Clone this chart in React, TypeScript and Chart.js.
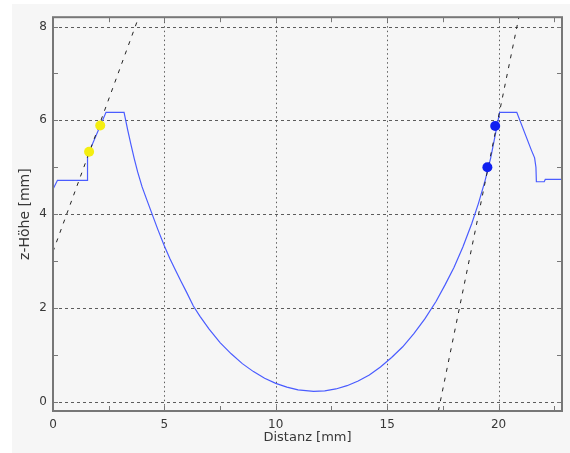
import React, { useEffect, useRef } from "react";
import { Chart, registerables } from "chart.js";

Chart.register(...registerables);

// Profile (blue line)
const profileX = [
  0, 0.2, 1.53, 1.55, 2.38, 3.19, 3.35, 3.5, 3.65, 3.8, 4.0, 4.2, 4.45, 4.7, 5.0, 5.25, 5.5, 5.75, 6.0, 6.3,
  6.6, 7.0, 7.5, 8.0, 8.5, 9.0, 9.5, 10.0, 10.5, 11.0, 11.7, 12.2, 12.7, 13.2, 13.7, 14.2, 14.7, 15.2,
  15.7, 16.2, 16.7, 17.2, 17.6, 18.0, 18.4, 18.8, 19.1, 19.4, 19.65, 19.85, 20.05, 20.82, 21.47,
  21.62, 21.68, 21.7, 22.05, 22.1, 22.85,
];
const profileY = [
  4.53, 4.72, 4.72, 5.25, 6.17, 6.17, 5.8, 5.48, 5.18, 4.9, 4.58, 4.32, 4.0, 3.68, 3.32, 3.05, 2.8, 2.56, 2.33, 2.04,
  1.82, 1.55, 1.26, 1.02, 0.81, 0.64, 0.5, 0.39, 0.31, 0.25, 0.22, 0.23, 0.27, 0.34, 0.44, 0.57, 0.74, 0.94,
  1.17, 1.45, 1.77, 2.14, 2.49, 2.86, 3.3, 3.8, 4.23, 4.72, 5.2, 5.68, 6.17, 6.17, 5.37,
  5.2, 5.0, 4.69, 4.69, 4.74, 4.74,
];

// Markers
const yellowX = [1.62, 2.12];
const yellowY = [5.33, 5.89];
const blueX = [19.5, 19.85];
const blueY = [5.0, 5.88];

// Tangent lines (black dashed)
const leftLineX = [0, 4.0];
const leftLineY = [3.2, 8.4];
const rightLineX = [17.3, 21.0];
const rightLineY = [-0.2, 8.4];

// Axes
const xMajorTicks = [0, 5, 10, 15, 20];
const xMinorTicks = [2.5, 7.5, 12.5, 17.5, 22.5];
const yMajorTicks = [0, 2, 4, 6, 8];
const yMinorTicks = [1, 3, 5, 7];
const xTitle = "Distanz [mm]";
const yTitle = "z-Höhe [mm]";

const BG = "#f6f6f6";
const GRID = "#5c5c5c";
const FRAME = "#777777";
const TEXT = "#383838";

const pts = (xs: number[], ys: number[]) => xs.map((x, i) => ({ x, y: ys[i] }));

const framePlugin = {
  id: "framePlugin",
  beforeDraw(chart: any) {
    const { ctx, width, height } = chart;
    ctx.save();
    ctx.fillStyle = BG;
    ctx.fillRect(0, 0, width, height);
    ctx.restore();
  },
  beforeDatasetsDraw(chart: any) {
    const { ctx, chartArea: a, scales } = chart;
    const x = scales.x;
    const y = scales.y;
    ctx.save();
    ctx.strokeStyle = GRID;
    ctx.lineWidth = 1;
    ctx.setLineDash([3, 3]);
    for (const v of yMajorTicks) {
      const py = Math.round(y.getPixelForValue(v)) + 0.5;
      ctx.beginPath();
      ctx.moveTo(a.left, py);
      ctx.lineTo(a.right, py);
      ctx.stroke();
    }
    ctx.setLineDash([1.5, 3]);
    for (const v of xMajorTicks) {
      const px = Math.round(x.getPixelForValue(v)) + 0.5;
      ctx.beginPath();
      ctx.moveTo(px, a.top);
      ctx.lineTo(px, a.bottom);
      ctx.stroke();
    }
    ctx.restore();
  },
  afterDatasetsDraw(chart: any) {
    const { ctx, chartArea: a, scales } = chart;
    const x = scales.x;
    const y = scales.y;
    ctx.save();
    ctx.strokeStyle = FRAME;
    ctx.setLineDash([]);
    ctx.lineWidth = 1;
    const tl = 5;
    for (const v of [...xMajorTicks, ...xMinorTicks]) {
      const px = Math.round(x.getPixelForValue(v)) + 0.5;
      ctx.beginPath();
      ctx.moveTo(px, a.bottom);
      ctx.lineTo(px, a.bottom - tl);
      ctx.moveTo(px, a.top);
      ctx.lineTo(px, a.top + tl);
      ctx.stroke();
    }
    for (const v of [...yMajorTicks, ...yMinorTicks]) {
      const py = Math.round(y.getPixelForValue(v)) + 0.5;
      ctx.beginPath();
      ctx.moveTo(a.left, py);
      ctx.lineTo(a.left + tl, py);
      ctx.moveTo(a.right, py);
      ctx.lineTo(a.right - tl, py);
      ctx.stroke();
    }
    ctx.lineWidth = 2;
    ctx.strokeRect(a.left, a.top, a.right - a.left, a.bottom - a.top);
    ctx.restore();
  },
};

export default function App() {
  const ref = useRef<HTMLCanvasElement | null>(null);

  useEffect(() => {
    if (!ref.current) return;
    const tickFont = { family: "DejaVu Sans", size: 12 };
    const xTitleFont = { family: "DejaVu Sans", size: 13 };
    const yTitleFont = { family: "DejaVu Sans", size: 14 };
    const chart = new Chart(ref.current, {
      type: "line",
      data: {
        datasets: [
          {
            label: "yellow",
            data: pts(yellowX, yellowY),
            showLine: false,
            pointRadius: 5,
            pointBackgroundColor: "#f4ee10",
            pointBorderWidth: 0,
            borderColor: "#f4ee10",
          },
          {
            label: "blue",
            data: pts(blueX, blueY),
            showLine: false,
            pointRadius: 5,
            pointBackgroundColor: "#1020f0",
            pointBorderWidth: 0,
            borderColor: "#1020f0",
          },
          {
            label: "left",
            data: pts(leftLineX, leftLineY),
            borderColor: "#222222",
            borderWidth: 1,
            borderDash: [4, 6],
            pointRadius: 0,
          },
          {
            label: "right",
            data: pts(rightLineX, rightLineY),
            borderColor: "#222222",
            borderWidth: 1,
            borderDash: [4, 6],
            pointRadius: 0,
          },
          {
            label: "profile",
            data: pts(profileX, profileY),
            borderColor: "#4a5cff",
            borderWidth: 1.2,
            pointRadius: 0,
            tension: 0,
          },
        ],
      },
      options: {
        animation: false,
        responsive: false,
        maintainAspectRatio: false,
        layout: { padding: { top: 7, right: 8, left: 0, bottom: 0 } },
        plugins: { legend: { display: false }, tooltip: { enabled: false } },
        scales: {
          x: {
            type: "linear",
            min: 0,
            max: 22.85,
            grid: { display: false, drawTicks: false },
            border: { display: false },
            ticks: { padding: 7, font: tickFont, color: TEXT, callback: (v: any) => String(v) },
            afterBuildTicks: (s: any) => {
              s.ticks = xMajorTicks.map((v) => ({ value: v }));
            },
            afterFit: (s: any) => {
              s.height = 42;
            },
            title: { display: true, text: xTitle, font: xTitleFont, color: TEXT, padding: { top: 0, bottom: 8 } },
          },
          y: {
            type: "linear",
            min: -0.2,
            max: 8.2,
            grid: { display: false, drawTicks: false },
            border: { display: false },
            ticks: { padding: 6, font: tickFont, color: TEXT, callback: (v: any) => String(v) },
            afterBuildTicks: (s: any) => {
              s.ticks = yMajorTicks.map((v) => ({ value: v }));
            },
            afterFit: (s: any) => {
              s.width = 41;
            },
            title: { display: true, text: yTitle, font: yTitleFont, color: TEXT, padding: { top: 5, bottom: 0 } },
          },
        },
      },
      plugins: [framePlugin],
    } as any);
    return () => chart.destroy();
  }, []);

  return (
    <div style={{ position: "fixed", left: 0, top: 0, width: 570, height: 453, background: "#ffffff" }}>
      <canvas ref={ref} width={558} height={449} style={{ position: "absolute", left: 12, top: 4, width: 558, height: 449 }} />
    </div>
  );
}
